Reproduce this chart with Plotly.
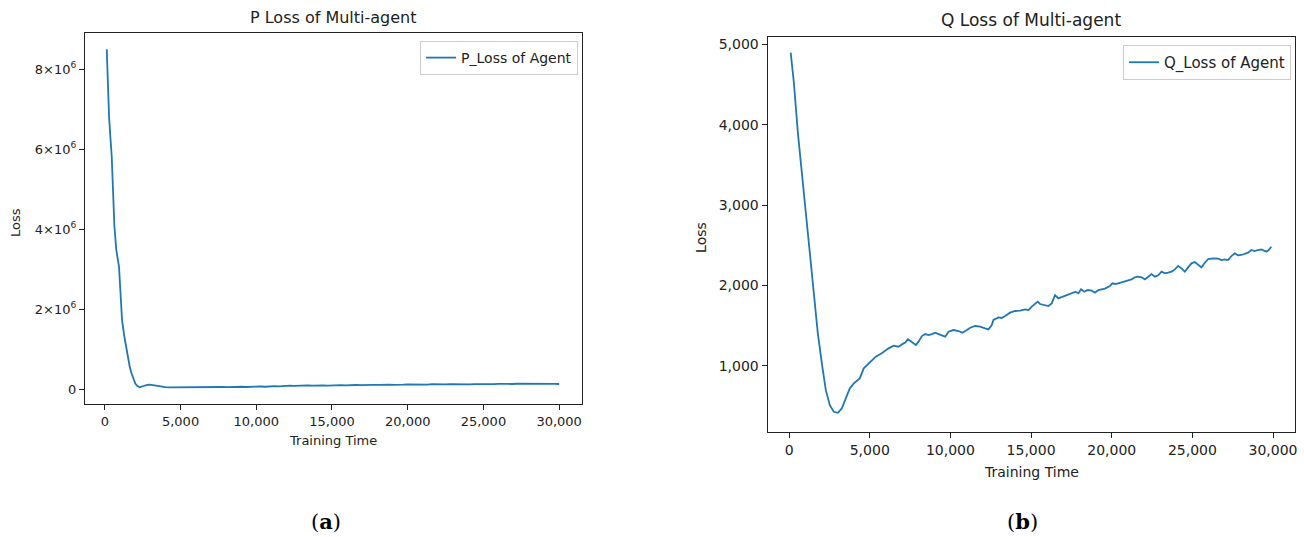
import plotly.graph_objects as go

# ---------------- data ----------------
p_x = [126, 202, 278, 379, 455, 530, 631, 758, 934, 1035, 1136, 1288, 1465, 1641, 1758,
       1818, 1978, 2020, 2150, 2308, 2450, 2637, 2800, 2967, 3130, 3296, 3500, 3736, 4000,
       4250, 4505, 4750, 5000, 5300, 5604, 5900, 6200, 6500, 6800, 7100, 7400, 7802, 8100,
       8400, 8700, 9000, 9300, 9600, 10000, 10300, 10600, 10900, 11200, 11500, 11800, 12198,
       12500, 12800, 13100, 13400, 13700, 14000, 14396, 14700, 15000, 15300, 15600, 15900,
       16200, 16593, 16900, 17200, 17500, 17800, 18100, 18400, 18791, 19100, 19400, 19700,
       20000, 20300, 20600, 20989, 21300, 21600, 21900, 22200, 22500, 22800, 23187, 23500,
       23800, 24100, 24400, 24700, 25000, 25385, 25700, 26000, 26300, 26600, 26900, 27200,
       27582, 27900, 28200, 28500, 28800, 29100, 29400, 29700, 30000]
p_loss = [8.50e6, 7.65e6, 6.82e6, 6.23e6, 5.82e6, 5.07e6, 4.07e6, 3.48e6, 3.07e6, 2.40e6,
          1.73e6, 1.32e6, 0.90e6, 0.57e6, 0.40e6, 0.33e6, 0.17e6, 0.14e6, 0.08e6, 0.05e6,
          0.07e6, 0.099e6, 0.112e6, 0.116e6, 0.104e6, 0.091e6, 0.072e6, 0.058e6, 0.052e6,
          0.048e6, 0.050e6, 0.046e6, 0.052e6, 0.047e6, 0.050e6, 0.055e6, 0.049e6, 0.054e6,
          0.058e6, 0.052e6, 0.060e6, 0.058e6, 0.055e6, 0.062e6, 0.059e6, 0.064e6, 0.058e6,
          0.066e6, 0.066e6, 0.070e6, 0.064e6, 0.074e6, 0.078e6, 0.072e6, 0.083e6, 0.091e6,
          0.084e6, 0.092e6, 0.088e6, 0.096e6, 0.090e6, 0.098e6, 0.099e6, 0.094e6, 0.103e6,
          0.097e6, 0.105e6, 0.100e6, 0.107e6, 0.108e6, 0.102e6, 0.111e6, 0.106e6, 0.113e6,
          0.109e6, 0.117e6, 0.116e6, 0.111e6, 0.122e6, 0.115e6, 0.124e6, 0.119e6, 0.126e6,
          0.124e6, 0.118e6, 0.127e6, 0.121e6, 0.128e6, 0.123e6, 0.130e6, 0.124e6, 0.120e6,
          0.129e6, 0.125e6, 0.131e6, 0.126e6, 0.132e6, 0.133e6, 0.127e6, 0.136e6, 0.130e6,
          0.138e6, 0.133e6, 0.139e6, 0.141e6, 0.135e6, 0.142e6, 0.136e6, 0.140e6, 0.134e6,
          0.141e6, 0.137e6, 0.133e6]

q_x = [99, 297, 545, 792, 1040, 1287, 1535, 1782, 2030, 2277, 2525, 2772, 3020, 3267, 3515,
       3762, 4010, 4381, 4629, 4950, 5371, 5743,
       6171, 6480, 6790, 6996, 7202, 7367, 7512, 7718, 7862, 8027, 8234, 8440, 8646, 8853,
       9059, 9265, 9472, 9678, 9884, 10194, 10503, 10751, 11019, 11225, 11535, 11844, 12154,
       12360, 12566, 12669, 12979, 13185, 13392, 13701, 14010, 14320, 14629, 14836, 15042,
       15248, 15413, 15558, 15764, 16073, 16280, 16486, 16692, 16940, 17208, 17518, 17765,
       17930, 18095, 18302, 18508, 18756, 18962, 19168, 19374, 19581, 19890, 20035, 20241,
       20509, 20777, 21025, 21231, 21438, 21644, 21850, 22057, 22263, 22469, 22675, 22882,
       23088, 23294, 23501, 23707, 23913, 24120, 24326, 24532, 24739, 24945, 25151, 25358,
       25564, 25770, 25976, 26286, 26595, 26802, 27008, 27214, 27421, 27627, 27833, 28040,
       28246, 28452, 28658, 28865, 29071, 29277, 29587, 29731, 29896]
q_loss = [4896, 4522, 3898, 3358, 2900, 2401, 1902, 1403, 1029, 696, 509, 426, 414, 468, 593,
          717, 780, 842, 967, 1029, 1112, 1154,
          1216, 1249, 1237, 1266, 1287, 1328, 1307, 1278, 1257, 1299, 1369, 1394, 1382, 1394,
          1411, 1394, 1382, 1361, 1423, 1444, 1432, 1411, 1444, 1473, 1494, 1486, 1465,
          1452, 1506, 1569, 1602, 1594, 1618, 1660, 1681, 1685, 1701, 1693, 1735,
          1768, 1797, 1768, 1755, 1743, 1776, 1880, 1838, 1859, 1880, 1909, 1921,
          1900, 1950, 1921, 1942, 1934, 1909, 1942, 1950, 1959, 1992, 2025, 2017,
          2033, 2042, 2058, 2075, 2100, 2108, 2100, 2075, 2108, 2141, 2108, 2125,
          2170, 2149, 2158, 2170, 2199, 2241, 2212, 2170, 2224, 2274, 2291, 2253,
          2224, 2282, 2328, 2336, 2332, 2315, 2324, 2315, 2365, 2398, 2374, 2378,
          2390, 2407, 2440, 2427, 2440, 2448, 2419, 2440, 2481]

x_ticks = [0, 5000, 10000, 15000, 20000, 25000, 30000]
x_tick_text = ["0", "5,000", "10,000", "15,000", "20,000", "25,000", "30,000"]
p_ticks = [0, 2e6, 4e6, 6e6, 8e6]
p_tick_text = ["0", "2×10<sup>6</sup>", "4×10<sup>6</sup>", "6×10<sup>6</sup>", "8×10<sup>6</sup>"]
q_ticks = [1000, 2000, 3000, 4000, 5000]
q_tick_text = ["1,000", "2,000", "3,000", "4,000", "5,000"]

# ---------------- figure ----------------
W, H = 1304, 537
FONT = "DejaVu Sans"
TXT = "#222222"
BLUE = "#1f77b4"


def px(x):
    return x / W


def py(y):
    return 1 - y / H


fig = go.Figure()
fig.add_trace(go.Scatter(x=p_x, y=p_loss, mode="lines", name="P_Loss of Agent",
                         line=dict(color=BLUE, width=1.8), xaxis="x", yaxis="y",
                         legend="legend"))
fig.add_trace(go.Scatter(x=q_x, y=q_loss, mode="lines", name="Q_Loss of Agent",
                         line=dict(color=BLUE, width=1.8), xaxis="x2", yaxis="y2",
                         legend="legend2"))

axis_common = dict(showline=True, linecolor=TXT, linewidth=1, mirror=True,
                   ticks="outside", ticklen=5, tickcolor=TXT, tickwidth=1,
                   showgrid=False, zeroline=False)

fig.update_layout(
    width=W, height=H, margin=dict(l=0, r=0, t=0, b=0),
    paper_bgcolor="white", plot_bgcolor="white",
    font=dict(family=FONT, color=TXT),
    xaxis=dict(domain=[px(85), px(582.7)], range=[-1319, 31497], anchor="y",
               tickvals=x_ticks, ticktext=x_tick_text, tickfont=dict(size=13), **axis_common),
    yaxis=dict(domain=[py(404), py(33.3)], range=[-0.3675e6, 8.9e6], anchor="x",
               tickvals=p_ticks, ticktext=p_tick_text, tickfont=dict(size=13), **axis_common),
    xaxis2=dict(domain=[px(768.7), px(1297)], range=[-1337, 31362], anchor="y2",
                tickvals=x_ticks, ticktext=x_tick_text, tickfont=dict(size=14), **axis_common),
    yaxis2=dict(domain=[py(432), py(36.7)], range=[175, 5094.6], anchor="x2",
                tickvals=q_ticks, ticktext=q_tick_text, tickfont=dict(size=14), **axis_common),
    legend=dict(x=px(579), y=py(41), xanchor="right", yanchor="top",
                bordercolor="#cccccc", borderwidth=1, bgcolor="white",
                font=dict(size=14, family=FONT, color=TXT), itemwidth=30),
    legend2=dict(x=px(1293), y=py(45), xanchor="right", yanchor="top",
                 bordercolor="#cccccc", borderwidth=1, bgcolor="white",
                 font=dict(size=15, family=FONT, color=TXT), itemwidth=30),
    showlegend=True,
)

annos = [
    dict(text="P Loss of Multi-agent", x=px(334), y=py(18), size=16),
    dict(text="Q Loss of Multi-agent", x=px(1033), y=py(20), size=17),
    dict(text="Training Time", x=px(334), y=py(440), size=13),
    dict(text="Training Time", x=px(1033), y=py(472), size=14),
]
for a in annos:
    fig.add_annotation(text=a["text"], x=a["x"], y=a["y"], xref="paper", yref="paper",
                       xanchor="center", yanchor="middle", showarrow=False,
                       font=dict(size=a["size"], family=FONT, color=TXT))
for x, y, s in [(15, 222, 13), (702, 237, 14)]:
    fig.add_annotation(text="Loss", x=px(x), y=py(y), xref="paper", yref="paper",
                       xanchor="center", yanchor="middle", showarrow=False, textangle=-90,
                       font=dict(size=s, family=FONT, color=TXT))
for x, lab in [(327, "a"), (1024, "b")]:
    fig.add_annotation(text="(<b>%s</b>)" % lab, x=px(x), y=py(521), xref="paper", yref="paper",
                       xanchor="center", yanchor="middle", showarrow=False,
                       font=dict(size=21, family="DejaVu Serif", color="#000000"))

fig.write_html(
    "out.html",
    config={"displayModeBar": False},
    post_script="document.body.style.margin='0';document.body.style.overflow='hidden';",
)
